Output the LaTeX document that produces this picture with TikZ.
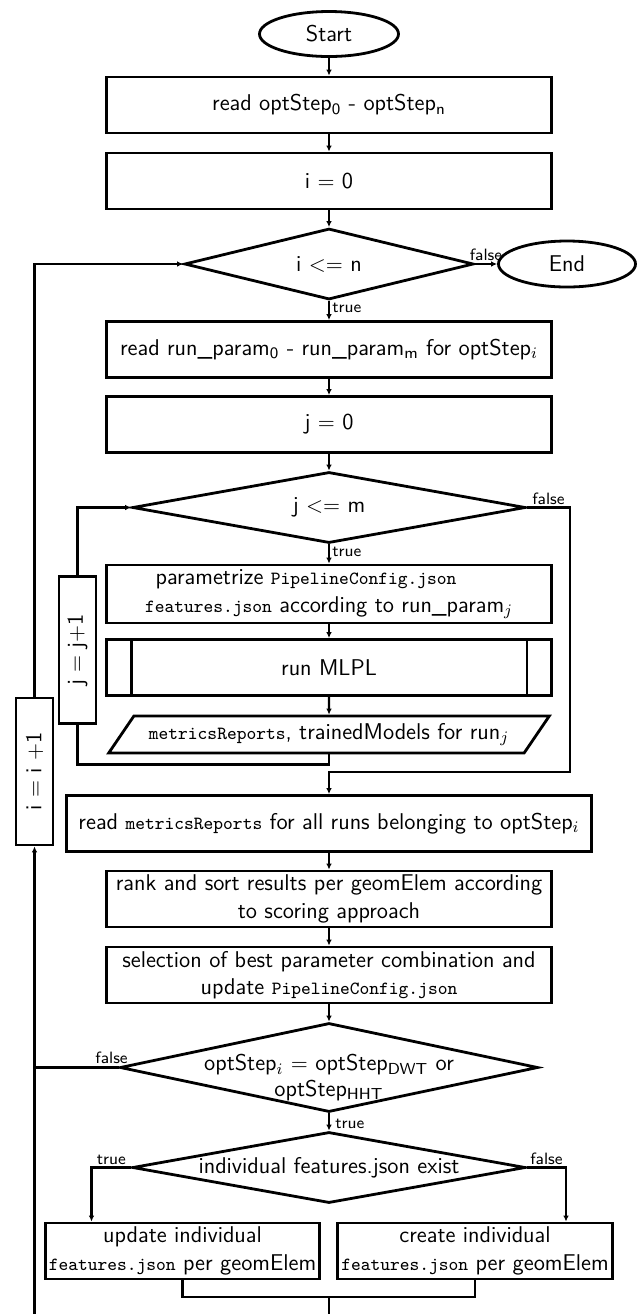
\documentclass[tikz,border=0pt]{standalone}
\usepackage{fontspec}
\usetikzlibrary{shapes.geometric,arrows.meta}
\newcommand\mono[1]{{\fontsize{9.3}{11}\selectfont\ttfamily #1}}
\newcommand\sbs[1]{\textsubscript{#1}}
\begin{document}
\begin{tikzpicture}[x=0.5pt,y=-0.5pt,
  every node/.style={font=\fontsize{11.4}{13.8}\selectfont\sffamily, inner sep=0pt},
  box/.style={draw, line width=1.4pt, rectangle, minimum width=222.5pt, minimum height=28pt, align=center},
  term/.style={draw, line width=1.4pt, ellipse, minimum width=69.5pt, minimum height=22.5pt},
  dec/.style={draw, line width=1.4pt, diamond, align=center, inner sep=-8pt},
  incbox/.style={draw, line width=1.4pt, rectangle, minimum width=18.5pt, minimum height=73.5pt},
  lbl/.style={font=\fontsize{8.2}{9}\selectfont\sffamily, inner sep=1pt},
  flow/.style={line width=1.1pt, -{Latex[length=3pt,width=2.8pt]}},
  conn/.style={line width=1.1pt},
]
\useasboundingbox (0,0) rectangle (638,1314);

% nodes
\node[term] (start) at (329,34) {Start};
\node[box] (read) at (329,105) {read optStep\sbs{0} - optStep\sbs{n}};
\node[box] (i0) at (329,181) {i $=$ 0};
\node[dec, minimum width=144.5pt, minimum height=35.5pt, aspect=4.07] (dI) at (329,264) {i $<=$ n};
\node[term, minimum width=68.5pt, minimum height=23pt] (end) at (567,264) {End};
\node[box] (read3) at (329,349.5) {read run\_param\sbs{0} - run\_param\sbs{m} for optStep$_i$};
\node[box] (j0) at (329,424.5) {j $=$ 0};
\node[dec, minimum width=196.5pt, minimum height=35.5pt, aspect=5.53] (dJ) at (329,507.5) {j $<=$ m};
\node[box, minimum height=29pt] (param) at (329,594) {parametrize \mono{PipelineConfig.json}\hspace*{23pt}\\ \mono{features.json} according to run\_param$_j$};
\node[box] (mlpl) at (329,667.5) {run MLPL};
\node[draw, line width=1.4pt, trapezium, trapezium left angle=44, trapezium right angle=136, trapezium stretches, minimum width=220.5pt, minimum height=18.5pt] (out) at (329,734.5) {\mono{metricsReports}, trainedModels for run$_j$};
\node[incbox] (jinc) at (77.5,650) {\rotatebox{90}{j $=$ j$+$1}};
\node[incbox] (iinc) at (34.5,771.5) {\rotatebox{90}{i $=$ i $+$1}};
\node[box, minimum width=262.5pt] (readM) at (329,823.5) {read \mono{metricsReports} for all runs belonging to optStep$_i$};
\node[box] (rank) at (329,899) {rank and sort results per geomElem according\\ to scoring approach};
\node[box] (sel) at (329,975) {selection of best parameter combination and\\ update \mono{PipelineConfig.json}};
\node[dec, minimum width=209pt, minimum height=44.5pt, aspect=4.7] (d3) at (329,1067.5) {\raisebox{-8pt}[0pt][0pt]{\begin{tabular}{@{}c@{}}optStep$_i$ $=$ optStep\sbs{DWT} or\\[-1pt] optStep\sbs{HHT}\end{tabular}}};
\node[dec, minimum width=196.5pt, minimum height=35.5pt, aspect=5.53] (d4) at (329,1167.5) {individual features.json exist};
\node[box, minimum width=137pt] (upd) at (182.5,1251) {update individual\\ \mono{features.json} per geomElem};
\node[box, minimum width=137.5pt] (cre) at (475,1251) {create individual\\ \mono{features.json} per geomElem};

% predefined process side bars
\draw[line width=1.4pt] ([xshift=13pt]mlpl.north west) -- ([xshift=13pt]mlpl.south west);
\draw[line width=1.4pt] ([xshift=-13pt]mlpl.north east) -- ([xshift=-13pt]mlpl.south east);

% helper coordinates
\coordinate (jx) at (570,0);
\coordinate (jmerge) at (329,772);
\coordinate (bl) at (34.5,1314);
\coordinate (tx) at (91.5,0);
\coordinate (fx) at (566,0);
\coordinate (bm) at (329,1297);

% connectors
\draw[flow] (start) -- (read);
\draw[flow] (read) -- (i0);
\draw[flow] (i0) -- (dI);
\draw[flow] (dI.east) -- node[lbl, above]{false} (end.west);
\draw[flow] (dI.south) -- (read3.north);
\node[lbl, anchor=north west] at ([xshift=0.5pt]dI.south) {true};
\draw[flow] (read3) -- (j0);
\draw[flow] (j0) -- (dJ);
\draw[flow] (dJ.south) -- (param.north);
\node[lbl, anchor=north west] at ([xshift=0.5pt]dJ.south) {true};
\draw[flow] (param) -- (mlpl);
\draw[flow] (mlpl) -- (out);
\draw[conn] (out.south) -- ++(0,10) -| (jinc.south);
\draw[flow] (jinc.north) |- (dJ.west);
\draw[flow] (dJ.east) -- node[lbl, above]{false} (dJ.east -| jx) |- (jmerge) -- (readM.north);
\draw[flow] (iinc.north) |- (dI.west);
\draw[flow] (bl) -- (iinc.south);
\draw[flow] (readM) -- (rank);
\draw[flow] (rank) -- (sel);
\draw[flow] (sel) -- (d3);
\draw[conn] (d3.west) -- (d3.west -| bl);
\node[lbl, anchor=south] at ([xshift=-3.5pt,yshift=0.5pt]d3.west) {false};
\draw[flow] (d3.south) -- (d4.north);
\node[lbl, anchor=north west] at ([xshift=2pt,yshift=-1.5pt]d3.south) {true};
\draw[flow] (d4.west) -- node[lbl, above]{true} (d4.west -| tx) -- (tx |- upd.north);
\draw[flow] (d4.east) -- node[lbl, above]{false} (d4.east -| fx) -- (fx |- cre.north);
\draw[conn] (upd.south) |- (bm) -| (cre.south);
\draw[conn] (bm) -- (bm |- bl);
\end{tikzpicture}
\end{document}
